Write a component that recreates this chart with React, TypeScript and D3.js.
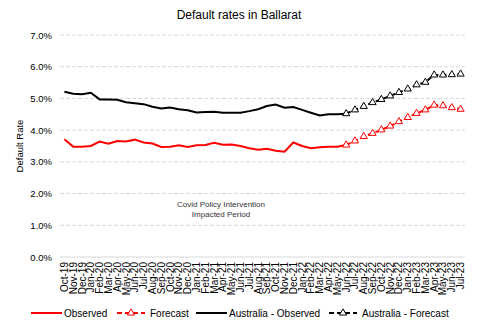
import React from "react";
import * as d3 from "d3";

const categories = [
  "Oct-19","Nov-19","Dec-19",
  "Jan-20","Feb-20","Mar-20","Apr-20","May-20","Jun-20","Jul-20","Aug-20","Sep-20","Oct-20","Nov-20","Dec-20",
  "Jan-21","Feb-21","Mar-21","Apr-21","May-21","Jun-21","Jul-21","Aug-21","Sep-21","Oct-21","Nov-21","Dec-21",
  "Jan-22","Feb-22","Mar-22","Apr-22","May-22","Jun-22","Jul-22","Aug-22","Sep-22","Oct-22","Nov-22","Dec-22",
  "Jan-23","Feb-23","Mar-23","Apr-23","May-23","Jun-23","Jul-23",
];

// Oct-19 .. Jun-22
const observed = [3.71,3.48,3.48,3.50,3.64,3.57,3.66,3.64,3.70,3.61,3.58,3.47,3.48,3.52,3.47,3.52,3.53,3.60,3.54,3.55,3.50,3.43,3.38,3.41,3.35,3.32,3.61,3.50,3.43,3.46,3.48,3.48,3.53];
const ausObserved = [5.21,5.15,5.13,5.18,4.97,4.97,4.96,4.88,4.85,4.82,4.74,4.68,4.71,4.66,4.63,4.56,4.57,4.58,4.55,4.55,4.55,4.60,4.66,4.76,4.81,4.71,4.73,4.64,4.55,4.46,4.50,4.50,4.52];
// Jun-22 .. Jul-23
const forecast = [3.53,3.66,3.80,3.90,4.01,4.13,4.27,4.40,4.53,4.64,4.79,4.77,4.71,4.66];
const ausForecast = [4.52,4.64,4.75,4.87,4.97,5.08,5.19,5.30,5.43,5.51,5.74,5.74,5.75,5.77];
const forecastStart = 32;

const yTicks = [0, 1, 2, 3, 4, 5, 6, 7];
const title = "Default rates in Ballarat";
const yTitle = "Default Rate";
const annotation = ["Covid Policy Intervention", "Impacted Period"];
const legendItems = [
  { label: "Observed", color: "#FF0000", dashed: false },
  { label: "Forecast", color: "#FF0000", dashed: true },
  { label: "Australia - Observed", color: "#000000", dashed: false },
  { label: "Australia - Forecast", color: "#000000", dashed: true },
];

const W = 477, H = 330;
const left = 60, right = 465, top = 35, bottom = 257;
const FONT = "'Liberation Sans', Arial, sans-serif";

export default function App() {
  const x = d3.scalePoint<string>().domain(categories).range([left, right]).padding(0.5);
  const y = d3.scaleLinear().domain([0, 7]).range([bottom, top]);
  const line = d3.line<[string, number]>().x((d) => x(d[0])!).y((d) => y(d[1]));

  const obsPts = observed.map((v, i) => [categories[i], v] as [string, number]);
  const ausObsPts = ausObserved.map((v, i) => [categories[i], v] as [string, number]);
  const fcPts = forecast.map((v, i) => [categories[forecastStart + i], v] as [string, number]);
  const ausFcPts = ausForecast.map((v, i) => [categories[forecastStart + i], v] as [string, number]);

  const tri = d3.symbol().type(d3.symbolTriangle).size(22);

  const legendX = [31, 117, 196, 329];
  const legendY = 313;

  return (
    <svg width={W} height={H} style={{ position: "fixed", left: 0, top: 0, background: "#fff" }} fontFamily={FONT}>
      <rect width={W} height={H} fill="#fff" />
      <text x={239} y={19} textAnchor="middle" fontSize={12} fill="#000">{title}</text>

      {yTicks.map((t) => (
        <g key={t}>
          <line x1={left} x2={right} y1={y(t)} y2={y(t)} stroke="#D9D9D9" strokeWidth={1}
            strokeDasharray={t === 0 ? undefined : "4,2"} />
          <text x={52} y={y(t) + 3.5} textAnchor="end" fontSize={9.5} fill="#000">{t.toFixed(1) + "%"}</text>
        </g>
      ))}

      <text transform={`translate(23,${(top + bottom) / 2}) rotate(-90)`} textAnchor="middle" fontSize={9.5} fill="#000">{yTitle}</text>

      {categories.map((c) => (
        <text key={c} transform={`translate(${x(c)! + 3.5},262) rotate(-90)`} textAnchor="end" fontSize={10} fill="#000">{c}</text>
      ))}

      <text x={221} y={207} textAnchor="middle" fontSize={8} fill="#333">{annotation[0]}</text>
      <text x={221} y={217} textAnchor="middle" fontSize={8} fill="#333">{annotation[1]}</text>

      <path d={line(obsPts)!} fill="none" stroke="#FF0000" strokeWidth={2} />
      <path d={line(ausObsPts)!} fill="none" stroke="#000" strokeWidth={2} />
      <path d={line(fcPts)!} fill="none" stroke="#FF0000" strokeWidth={2} strokeDasharray="5,3" />
      <path d={line(ausFcPts)!} fill="none" stroke="#000" strokeWidth={2} strokeDasharray="5,3" />
      {fcPts.map((p, i) => (
        <path key={"f" + i} d={tri()!} transform={`translate(${x(p[0])},${y(p[1])})`} fill="#fff" stroke="#FF0000" strokeWidth={1} />
      ))}
      {ausFcPts.map((p, i) => (
        <path key={"a" + i} d={tri()!} transform={`translate(${x(p[0])},${y(p[1])})`} fill="#fff" stroke="#000" strokeWidth={1} />
      ))}

      {legendItems.map((it, i) => {
        const lx = legendX[i];
        const len = it.dashed ? 28 : 31;
        return (
          <g key={it.label}>
            <line x1={lx} x2={lx + len} y1={legendY} y2={legendY} stroke={it.color} strokeWidth={2}
              strokeDasharray={it.dashed ? "5,3" : undefined} />
            {it.dashed && (
              <path d={tri()!} transform={`translate(${lx + len / 2},${legendY})`} fill="#fff" stroke={it.color} strokeWidth={1} />
            )}
            <text x={lx + len + (it.dashed ? 5 : 2)} y={legendY + 3.5} fontSize={10} fill="#000">{it.label}</text>
          </g>
        );
      })}
    </svg>
  );
}
